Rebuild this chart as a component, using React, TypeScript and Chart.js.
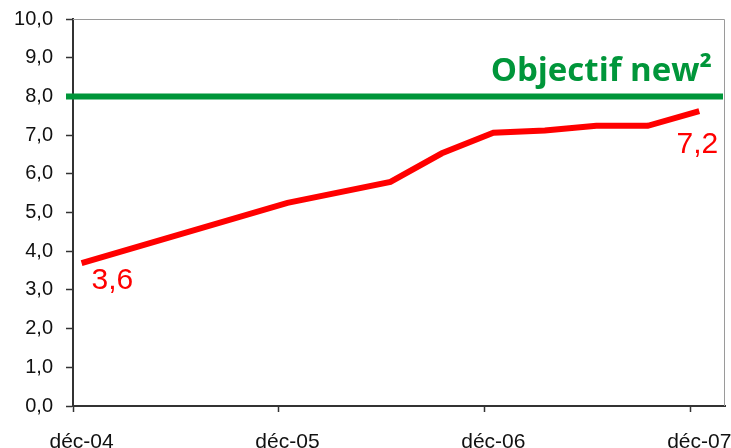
import React, { useEffect, useRef } from "react";
import { Chart, registerables } from "chart.js";

Chart.register(...registerables);

const MONTHS = ["janv", "févr", "mars", "avr", "mai", "juin", "juil", "août", "sept", "oct", "nov", "déc"];
const YEARS = ["05", "06", "07"];
const CATEGORIES = ["déc-04", ...YEARS.flatMap((y) => MONTHS.map((m) => `${m}-${y}`)), "janv-08"];

const POINT_MONTHS = ["déc-04", "déc-05", "juin-06", "sept-06", "déc-06", "mars-07", "juin-07", "sept-07", "déc-07"];
const RATE = [3.69, 5.25, 5.79, 6.53, 7.06, 7.12, 7.24, 7.24, 7.62];
const END_LABELS = ["3,6", "7,2"];

const TARGET = 8;
const TARGET_LABEL = "Objectif new²";

const Y_MIN = 0;
const Y_MAX = 10;
const Y_STEP = 1;

const RED = "#ff0000";
const GREEN = "#00963a";
const FONT = "'Liberation Sans', Arial, sans-serif";

export default function App() {
  const ref = useRef<HTMLCanvasElement | null>(null);

  useEffect(() => {
    document.body.style.margin = "0";
    const canvas = ref.current;
    if (!canvas) return;

    const series = CATEGORIES.map((c) => {
      const i = POINT_MONTHS.indexOf(c);
      return i >= 0 ? RATE[i] : null;
    });

    const overlay = {
      id: "overlay",
      beforeDatasetsDraw(chart: any) {
        const { ctx, chartArea, scales } = chart;
        ctx.save();
        // top & right frame
        ctx.strokeStyle = "#9a9a9a";
        ctx.lineWidth = 1;
        ctx.beginPath();
        ctx.moveTo(chartArea.left, chartArea.top + 0.5);
        ctx.lineTo(chartArea.right - 0.5, chartArea.top + 0.5);
        ctx.lineTo(chartArea.right - 0.5, chartArea.bottom);
        ctx.stroke();
        // target line
        const y = scales.y.getPixelForValue(TARGET);
        ctx.strokeStyle = GREEN;
        ctx.lineWidth = 6;
        ctx.beginPath();
        ctx.moveTo(chartArea.left - 7, y);
        ctx.lineTo(chartArea.right - 2, y);
        ctx.stroke();
        // target label
        ctx.fillStyle = GREEN;
        ctx.font = `bold 33px 'Open Sans', ${FONT}`;
        ctx.textAlign = "right";
        ctx.textBaseline = "alphabetic";
        ctx.fillText(TARGET_LABEL, chartArea.right - 13, y - 15);
        ctx.restore();
      },
      afterDraw(chart: any) {
        const { ctx } = chart;
        const pts = chart.getDatasetMeta(0).data.filter((p: any) => !p.skip);
        if (!pts.length) return;
        const first = pts[0];
        const last = pts[pts.length - 1];
        ctx.save();
        ctx.fillStyle = RED;
        ctx.font = `30px ${FONT}`;
        ctx.textBaseline = "alphabetic";
        ctx.textAlign = "left";
        ctx.fillText(END_LABELS[0], first.x + 10, first.y + 26);
        ctx.textAlign = "right";
        ctx.fillText(END_LABELS[1], last.x + 19, last.y + 42);
        ctx.restore();
      },
    };

    const chart = new Chart(canvas, {
      type: "line",
      data: {
        labels: CATEGORIES,
        datasets: [
          {
            data: series,
            borderColor: RED,
            borderWidth: 6,
            pointRadius: 0,
            tension: 0,
            spanGaps: true,
            borderJoinStyle: "miter",
            borderCapStyle: "butt",
          },
        ],
      },
      options: {
        responsive: false,
        animation: false,
        events: [],
        layout: { padding: { top: 19, right: 6, left: 0, bottom: 0 } },
        plugins: { legend: { display: false }, tooltip: { enabled: false } },
        scales: {
          x: {
            type: "category",
            offset: true,
            grid: {
              offset: true,
              drawOnChartArea: false,
              tickLength: 6,
              tickWidth: 1.5,
              tickColor: (ctx: any) => (ctx.index !== undefined && ctx.index % 12 === 0 ? "#333" : "rgba(0,0,0,0)"),
            },
            border: { color: "#333", width: 2 },
            ticks: {
              autoSkip: false,
              maxRotation: 0,
              minRotation: 0,
              padding: 18,
              color: "#111",
              font: { family: FONT, size: 21 },
              callback: (_v: any, i: number) => (CATEGORIES[i].startsWith("déc") ? CATEGORIES[i] : ""),
            },
            afterFit: (s: any) => {
              s.height = 42;
              s.paddingLeft = 0;
              s.paddingRight = 0;
            },
          },
          y: {
            min: Y_MIN,
            max: Y_MAX,
            grid: { drawOnChartArea: false, tickLength: 7, tickWidth: 1.5, tickColor: "#333" },
            border: { color: "#333", width: 2 },
            ticks: {
              stepSize: Y_STEP,
              padding: 13,
              color: "#111",
              font: { family: FONT, size: 20 },
              callback: (v: any) => Number(v).toFixed(1).replace(".", ","),
            },
            afterFit: (s: any) => {
              s.width = 73;
              s.paddingTop = 0;
              s.paddingBottom = 0;
            },
          },
        },
      },
      plugins: [overlay],
    } as any);

    return () => chart.destroy();
  }, []);

  return <canvas ref={ref} width={731} height={448} style={{ display: "block" }} />;
}
